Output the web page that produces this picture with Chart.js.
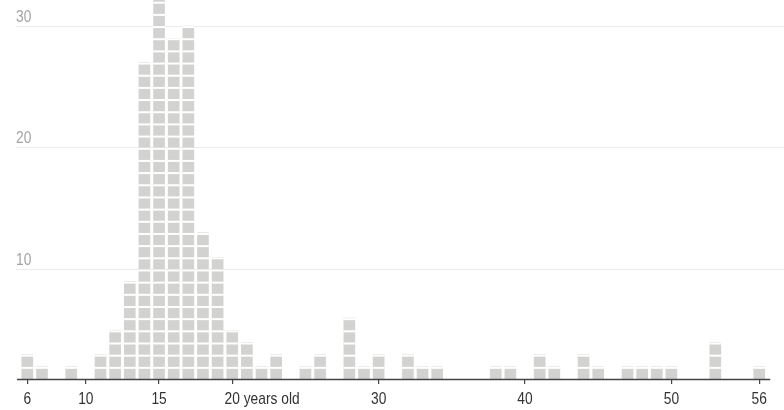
<!DOCTYPE html>
<html>
<head>
<meta charset="utf-8">
<script src="https://cdn.jsdelivr.net/npm/chart.js@4.4.1/dist/chart.umd.min.js"></script>
<style>
  html, body { margin: 0; padding: 0; background: #fff; }
  #wrap { width: 784px; height: 410px; }
</style>
</head>
<body>
<div id="wrap"><canvas id="chart"></canvas></div>
<script>
// Ages (x) and the value of each column read against the y axis
const ages   = [6, 7, 9, 11, 12, 13, 14, 15, 16, 17, 18, 19, 20, 21, 22, 23, 25, 26, 28, 29, 30, 32, 33, 34, 38, 39, 41, 42, 44, 45, 47, 48, 49, 50, 53, 56];
const people = [3, 2, 2, 3,  5,  9,  27, 33, 29, 30, 13, 11, 5,  4,  2,  3,  2,  3,  6,  2,  3,  3,  2,  2,  2,  2,  3,  2,  3,  2,  2,  2,  2,  2,  4,  2];
const xTicks = [6, 10, 15, 20, 30, 40, 50, 56];
const yTicks = [10, 20, 30];

const FONT = "'Liberation Sans', Arial, sans-serif";
const SQUEEZE = 0.81;   // fake a condensed face

function narrowText(ctx, text, x, y, align) {
  const w = ctx.measureText(text).width * SQUEEZE;
  let left = x;
  if (align === 'center') left = x - w / 2;
  ctx.save();
  ctx.translate(left, y);
  ctx.scale(SQUEEZE, 1);
  ctx.textAlign = 'left';
  ctx.fillText(text, 0, 0);
  ctx.restore();
}

// cuts each bar into stacked squares, draws axis line + labels
const squaresPlugin = {
  id: 'squares',
  afterDatasetsDraw(chart) {
    const { ctx, chartArea, scales: { x, y } } = chart;
    const meta = chart.getDatasetMeta(0);

    ctx.save();
    ctx.beginPath();
    ctx.rect(chartArea.left, chartArea.top, chartArea.width, chartArea.height);
    ctx.clip();
    ctx.fillStyle = '#ffffff';
    meta.data.forEach((bar, i) => {
      for (let k = 2; k <= people[i]; k++) {
        const py = y.getPixelForValue(k);
        ctx.fillRect(bar.x - bar.width / 2 - 0.5, py, bar.width + 1, 2);
      }
    });
    ctx.restore();

    // axis line
    ctx.save();
    ctx.strokeStyle = '#444';
    ctx.lineWidth = 1.5;
    ctx.beginPath();
    ctx.moveTo(chartArea.left + 1, chartArea.bottom + 0.5);
    ctx.lineTo(x.getPixelForValue(56.75), chartArea.bottom + 0.5);
    ctx.stroke();

    ctx.font = '17px ' + FONT;
    ctx.textBaseline = 'alphabetic';

    // y labels, sitting on their gridlines
    ctx.fillStyle = '#a3a3a3';
    yTicks.forEach(v => {
      narrowText(ctx, String(v), chartArea.left, y.getPixelForValue(v) - 4.5, 'left');
    });

    // x labels
    ctx.fillStyle = '#333';
    xTicks.forEach(v => {
      const px = x.getPixelForValue(v);
      if (v === 20) {
        const w = ctx.measureText('20').width * SQUEEZE;
        narrowText(ctx, '20 years old', px - w / 2, 404, 'left');
      } else {
        narrowText(ctx, String(v), px, 404, 'center');
      }
    });
    ctx.restore();
  }
};

new Chart(document.getElementById('chart'), {
  type: 'bar',
  data: {
    datasets: [{
      data: ages.map((a, i) => ({ x: a, y: people[i] })),
      backgroundColor: '#d2d2d0',
      borderWidth: 0,
      barThickness: 11
    }]
  },
  options: {
    responsive: true,
    maintainAspectRatio: false,
    animation: false,
    layout: { padding: { left: 16, right: 0, top: 0, bottom: 26 } },
    plugins: { legend: { display: false }, tooltip: { enabled: false } },
    scales: {
      x: {
        type: 'linear',
        min: 5.228, max: 57.69,
        offset: false,
        afterBuildTicks: s => { s.ticks = xTicks.map(v => ({ value: v })); },
        grid: { offset: false, drawOnChartArea: false, drawTicks: true, tickLength: 5, color: '#444', lineWidth: 1.2 },
        border: { display: false },
        ticks: { display: false }
      },
      y: {
        min: 1, max: 32.14,
        afterBuildTicks: s => { s.ticks = yTicks.map(v => ({ value: v })); },
        grid: { color: '#ececec', drawTicks: false, lineWidth: 1 },
        border: { display: false },
        ticks: { display: false }
      }
    }
  },
  plugins: [squaresPlugin]
});
</script>
</body>
</html>
